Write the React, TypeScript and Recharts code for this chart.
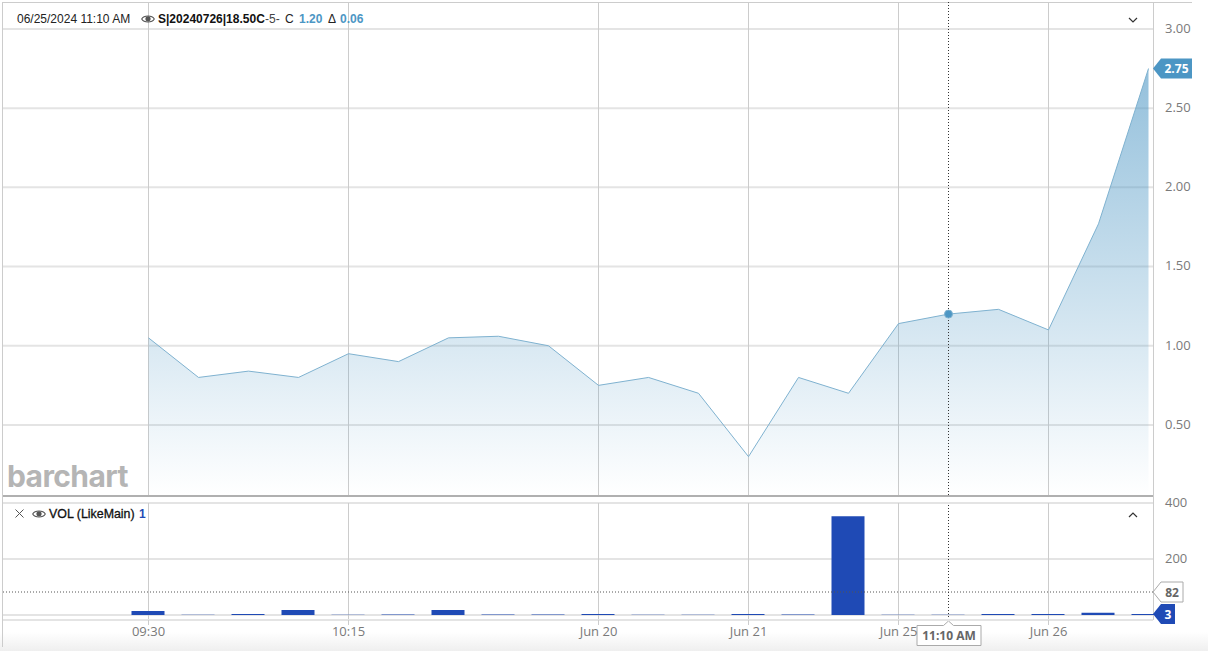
import {
  Area,
  AreaChart,
  Bar,
  BarChart,
  CartesianGrid,
  ReferenceDot,
  ReferenceLine,
  XAxis,
  YAxis,
} from "recharts";

const prices = [
  1.05, 0.8, 0.84, 0.8, 0.95, 0.9, 1.05, 1.06, 1.0, 0.75, 0.8, 0.7, 0.3, 0.8, 0.7, 1.14, 1.2, 1.23,
  1.1, 1.77, 2.75,
];
const volumes = [14, 1, 3, 18, 1, 2, 18, 2, 2, 3, 1, 1, 3, 2, 353, 1, 1, 3, 3, 8, 3];
const tickIndexes = [0, 4, 9, 12, 15, 18];
const tickLabels = ["09:30", "10:15", "Jun 20", "Jun 21", "Jun 25", "Jun 26"];
const priceTicks = [0.5, 1, 1.5, 2, 2.5, 3];
const volumeTicks = [0, 200, 400];
const crosshairIndex = 16;
const crosshairPrice = 1.2;
const lastPrice = 2.75;
const lastVolume = 3;
const volumeLevel = 82;

const rows = prices.map((price, i) => ({ i, price, volume: volumes[i] }));

const xDomain = [-2.91, 20.09];
const axisFont = "'Open Sans', sans-serif";
const headFont = "'Liberation Sans', Arial, sans-serif";
const blue = "#4c96c4";
const volBlue = "#1f4ab5";

const tickStyle = { fontSize: 13, fontFamily: axisFont, fill: "#7a7a7a" };
const yTickStyle = { ...tickStyle, dy: -0.7 };

function Tag({ viewBox, text, fill, color, stroke, w }: any) {
  const x = viewBox.x + viewBox.width;
  const y = viewBox.y;
  const path = `M${x} ${y} L${x + 8} ${y - 10} H${x + w} V${y + 10} H${x + 8} Z`;
  return (
    <g>
      <path d={path} fill={fill} stroke={stroke ?? "none"} />
      <text
        x={x + 8 + (w - 8) / 2}
        y={y + 4.5}
        textAnchor="middle"
        fontFamily={axisFont}
        fontSize={12}
        fontWeight={700}
        fill={color}
      >
        {text}
      </text>
    </g>
  );
}

function TimeFlag({ viewBox }: any) {
  const x = viewBox.x;
  const top = 131;
  return (
    <g>
      <path
        d={`M${x - 31.5} ${top + 4.5} H${x - 5} L${x} ${top} L${x + 5} ${top + 4.5} H${x + 32.5} V${top + 24.5} H${x - 31.5} Z`}
        fill="#fff"
        stroke="#aaa"
      />
      <text
        x={x + 0.5}
        y={top + 19}
        textAnchor="middle"
        fontFamily={axisFont}
        fontSize={12}
        fontWeight={700}
        fill="#666"
      >
        11:10 AM
      </text>
    </g>
  );
}

function Eye({ x, y }: { x: number; y: number }) {
  return (
    <svg width={14} height={10} viewBox="0 0 14 10" style={{ position: "absolute", left: x, top: y }}>
      <path d="M0.7 5 C3 1 11 1 13.3 5 C11 9 3 9 0.7 5 Z" fill="none" stroke="#555" strokeWidth={1.1} />
      <circle cx={7} cy={4.8} r={2.6} fill="#555" />
    </svg>
  );
}

function Chevron({ x, y, up }: { x: number; y: number; up?: boolean }) {
  return (
    <svg width={10} height={6} viewBox="0 0 10 6" style={{ position: "absolute", left: x, top: y }}>
      <path d={up ? "M1 5 L5 1 L9 5" : "M1 1 L5 5 L9 1"} fill="none" stroke="#333" strokeWidth={1.2} />
    </svg>
  );
}

function Cross({ x, y }: { x: number; y: number }) {
  return (
    <svg width={9} height={9} viewBox="0 0 9 9" style={{ position: "absolute", left: x, top: y }}>
      <path d="M0.5 0.5 L8.5 8.5 M8.5 0.5 L0.5 8.5" fill="none" stroke="#555" strokeWidth={1} />
    </svg>
  );
}

function Label({ x, y, children, style }: any) {
  return (
    <div
      style={{
        position: "absolute",
        left: x,
        top: y,
        fontFamily: headFont,
        fontSize: 12,
        lineHeight: "14px",
        whiteSpace: "nowrap",
        color: "#222",
        ...style,
      }}
    >
      {children}
    </div>
  );
}

function Rule({ x, y, w, h, color }: any) {
  return <div style={{ position: "absolute", left: x, top: y, width: w, height: h, background: color }} />;
}

export default function App() {
  return (
    <div style={{ position: "absolute", left: 0, top: 0, width: 1208, height: 651, overflow: "hidden", background: "#fff" }}>
      <div
        style={{
          position: "absolute",
          left: 0,
          top: 632,
          width: 1208,
          height: 19,
          background: "linear-gradient(#ffffff, #efefef)",
        }}
      />
      <Rule x={2} y={2} w={1} h={645} color="#ccc" />
      <Rule x={3} y={2} w={1189} h={1} color="#ccc" />
      <Rule x={1153} y={2} w={1} h={618} color="#ccc" />

      <div style={{ position: "absolute", left: 0, top: 0 }}>
        <AreaChart width={1208} height={497} data={rows} margin={{ top: 2, right: 0, bottom: 2, left: 3 }}>
          <defs>
            <linearGradient id="priceFill" x1="0" y1="0" x2="0" y2="1">
              <stop offset="0%" stopColor={blue} stopOpacity={0.6} />
              <stop offset="100%" stopColor={blue} stopOpacity={0} />
            </linearGradient>
          </defs>
          <CartesianGrid vertical={false} horizontalValues={priceTicks} stroke="#e4e4e4" strokeWidth={2} />
          <CartesianGrid horizontal={false} verticalValues={tickIndexes} stroke="#ccc" />
          <XAxis dataKey="i" type="number" domain={xDomain} ticks={tickIndexes} hide />
          <YAxis
            orientation="right"
            width={55}
            domain={[0.058, 3.17]}
            ticks={priceTicks}
            interval={0}
            tickFormatter={(v: number) => v.toFixed(2)}
            tick={yTickStyle}
            axisLine={false}
            tickLine={false}
            tickMargin={6}
          />
          <Area
            dataKey="price"
            type="linear"
            stroke="#7fb2d0"
            strokeWidth={1}
            fill="url(#priceFill)"
            fillOpacity={1}
            isAnimationActive={false}
          />
          <ReferenceLine x={crosshairIndex} stroke="#333" strokeDasharray="1 2" />
          <ReferenceDot x={crosshairIndex} y={crosshairPrice} r={4} fill={blue} stroke="#7fb2d0" />
          <ReferenceLine
            y={lastPrice}
            stroke="none"
            label={(props: any) => <Tag {...props} text={lastPrice.toFixed(2)} fill={blue} color="#fff" w={39} />}
          />
        </AreaChart>
      </div>

      <Rule x={3} y={495} w={1150} h={2} color="#b0b0b0" />

      <div style={{ position: "absolute", left: 0, top: 490 }}>
        <BarChart width={1208} height={161} data={rows} margin={{ top: 13, right: 0, bottom: 0, left: 3 }}>
          <CartesianGrid vertical={false} horizontalValues={volumeTicks} stroke="#e4e4e4" strokeWidth={2} />
          <CartesianGrid horizontal={false} verticalValues={tickIndexes} stroke="#ccc" />
          <XAxis
            dataKey="i"
            type="number"
            domain={xDomain}
            ticks={tickIndexes}
            interval={0}
            tickFormatter={(v: number) => tickLabels[tickIndexes.indexOf(v)]}
            tick={tickStyle}
            axisLine={{ stroke: "#e4e4e4", strokeWidth: 2 }}
            tickLine={{ stroke: "#ccc" }}
            tickSize={5}
            tickMargin={2}
            height={31}
          />
          <YAxis
            orientation="right"
            width={55}
            domain={[-18, 400]}
            ticks={volumeTicks.slice(1)}
            interval={0}
            tick={yTickStyle}
            axisLine={false}
            tickLine={false}
            tickMargin={6}
          />
          <Bar dataKey="volume" fill={volBlue} barSize={33} isAnimationActive={false} />
          <ReferenceLine
            y={volumeLevel}
            stroke="#555"
            strokeDasharray="1 2"
            label={(props: any) => <Tag {...props} text={String(volumeLevel)} fill="#fff" color="#666" stroke="#aaa" w={30} />}
          />
          <ReferenceLine
            y={lastVolume}
            stroke="none"
            label={(props: any) => <Tag {...props} text={String(lastVolume)} fill={volBlue} color="#fff" w={22} />}
          />
          <ReferenceLine x={crosshairIndex} stroke="#333" strokeDasharray="1 2" label={(props: any) => <TimeFlag {...props} />} />
        </BarChart>
      </div>

      <Label x={17} y={12}>06/25/2024 11:10 AM</Label>
      <Eye x={141} y={14} />
      <Label x={158} y={12} style={{ fontWeight: 700, color: "#111" }}>S|20240726|18.50C</Label>
      <Label x={265} y={12} style={{ color: "#444" }}>-5-</Label>
      <Label x={285} y={12}>C</Label>
      <Label x={299} y={12} style={{ fontWeight: 700, color: blue }}>1.20</Label>
      <Label x={328} y={12}>Δ</Label>
      <Label x={340} y={12} style={{ fontWeight: 700, color: blue }}>0.06</Label>
      <Chevron x={1128} y={17} />

      <Cross x={15} y={509} />
      <Eye x={32} y={509} />
      <Label x={49} y={507} style={{ fontSize: 12.4, color: "#111", WebkitTextStroke: "0.3px #111" }}>VOL (LikeMain)</Label>
      <Label x={139} y={507} style={{ fontWeight: 700, color: volBlue }}>1</Label>
      <Chevron x={1128} y={512} up />

      <div
        style={{
          position: "absolute",
          left: 7,
          top: 457,
          fontFamily: "Inter, sans-serif",
          fontSize: 30,
          fontWeight: 700,
          letterSpacing: -0.6,
          lineHeight: "38px",
          color: "#b5b5b5",
        }}
      >
        barchart
      </div>
    </div>
  );
}
